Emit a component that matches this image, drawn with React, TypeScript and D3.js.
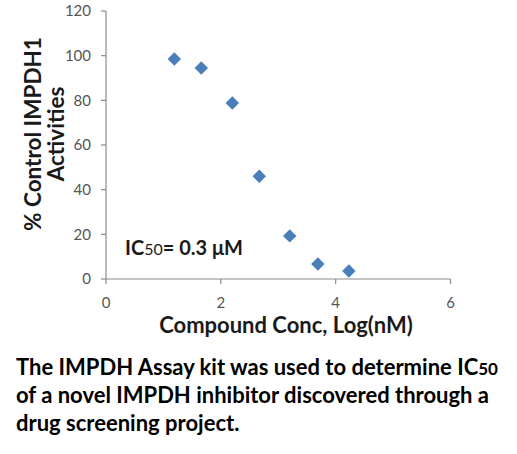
import React from "react";
import * as d3 from "d3";

const logConc = [1.19, 1.66, 2.2, 2.67, 3.2, 3.69, 4.23];
const activity = [98.5, 94.5, 78.8, 46, 19.3, 6.7, 3.6];
const xTicks = [0, 2, 4, 6];
const yTicks = [0, 20, 40, 60, 80, 100, 120];
const yLabelLines = ["% Control IMPDH1", "Activities"];
const xLabel = "Compound Conc, Log(nM)";
const captionLines = [
  ["The IMPDH Assay kit was used to determine IC", "50"],
  ["of a novel IMPDH inhibitor discovered through a", ""],
  ["drug screening project.", ""],
];

const W = 517, H = 454;
const FONT = "Lato, 'Open Sans', sans-serif";

export default function App() {
  const x = d3.scaleLinear().domain([0, 6]).range([106, 450.5]);
  const y = d3.scaleLinear().domain([0, 120]).range([279, 11]);
  const diamond = d3.symbol().type(d3.symbolDiamond2).size(115)();
  const axisColor = "#8c8c8c";
  return (
    <svg width={W} height={H} style={{ position: "absolute", left: 0, top: 0, background: "#fff" }} fontFamily={FONT}>
      <rect width={W} height={H} fill="#fff" />
      {/* y axis */}
      <line x1={x(0)} x2={x(0)} y1={y(120)} y2={y(0)} stroke={axisColor} strokeWidth={1.2} />
      {yTicks.map((t) => (
        <g key={"y" + t}>
          <line x1={x(0) - 5} x2={x(0)} y1={y(t)} y2={y(t)} stroke={axisColor} strokeWidth={1.2} />
          <text x={x(0) - 15} y={y(t)} dy="0.36em" textAnchor="end" fontSize={15} fill="#555">{t}</text>
        </g>
      ))}
      {/* x axis */}
      <line x1={x(0)} x2={x(6)} y1={y(0)} y2={y(0)} stroke={axisColor} strokeWidth={1.2} />
      {xTicks.map((t) => (
        <g key={"x" + t}>
          <line x1={x(t)} x2={x(t)} y1={y(0)} y2={y(0) + 5} stroke={axisColor} strokeWidth={1.2} />
          <text x={x(t)} y={y(0) + 29} textAnchor="middle" fontSize={15} fill="#555">{t}</text>
        </g>
      ))}
      {/* points */}
      {logConc.map((c, i) => (
        <path key={i} d={diamond} transform={`translate(${x(c)},${y(activity[i])})`} fill="#4a7ebb" />
      ))}
      {/* annotation */}
      <text x={125} y={255} fontSize={20} fontWeight="bold" fill="#1a1a1a">
        IC<tspan fontSize={16} fontWeight="normal">50</tspan>= 0.3 μM
      </text>
      {/* y label */}
      {yLabelLines.map((l, i) => (
        <text key={l} transform={`translate(${41 + i * 23},${134}) rotate(-90)`} textAnchor="middle" fontSize={22.5} fontWeight="bold" fill="#1a1a1a">{l}</text>
      ))}
      {/* x label */}
      <text x={286} y={333} textAnchor="middle" fontSize={22} fontWeight="bold" fill="#1a1a1a">{xLabel}</text>
      {/* caption */}
      {captionLines.map((l, i) => (
        <text key={i} x={16} y={375 + i * 28} fontSize={22} fontWeight="bold" fill="#000">
          {l[0]}{l[1] ? <tspan fontSize={17}>{l[1]}</tspan> : null}
        </text>
      ))}
    </svg>
  );
}
